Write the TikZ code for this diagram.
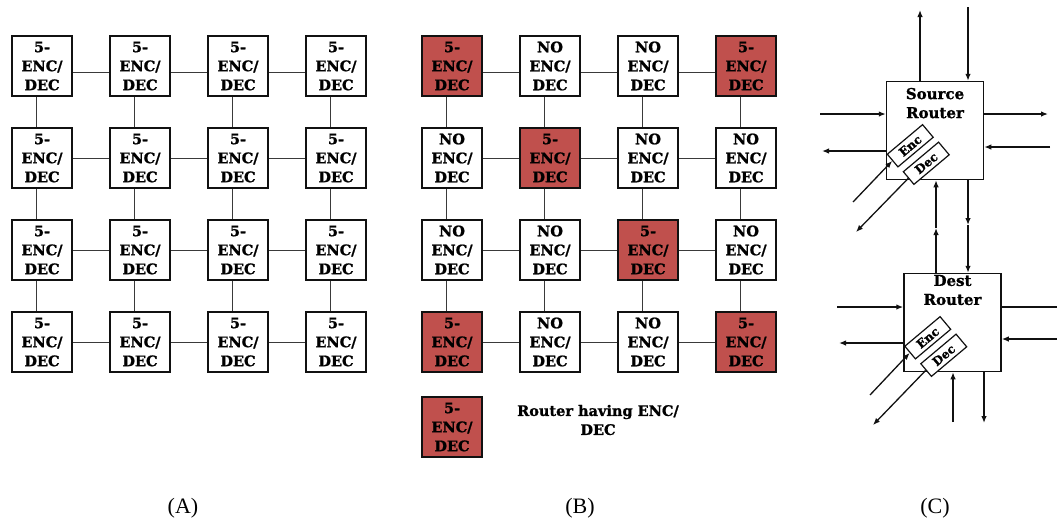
\documentclass[tikz,border=0pt]{standalone}
\usepackage{fontspec}
\setmainfont{DejaVu Serif}[BoldFeatures={FakeBold=1.2}]
\newfontfamily\capfont{Liberation Serif}
\usepackage{tikz}
\usetikzlibrary{arrows.meta,positioning,calc}
\definecolor{encred}{HTML}{C0504D}
\definecolor{ink}{HTML}{111111}
\definecolor{ink2}{HTML}{3A3A3A}

\begin{document}
\begin{tikzpicture}[x=1pt, y=-1pt,
  router/.style={draw=ink, line width=1.8pt, fill=white, minimum width=60pt, minimum height=60pt, inner sep=0pt, align=center, font=\bfseries\fontsize{14.5}{19}\selectfont},
  link/.style={ink2, line width=0.9pt},
  rbox/.style={draw=ink, line width=1.5pt, fill=white, minimum width=97pt, minimum height=98pt, inner sep=0pt},
  rtext/.style={align=center, inner sep=0pt, font=\bfseries\fontsize{15}{19}\selectfont},
  encbox/.style={draw=ink, line width=1.2pt, fill=white, minimum width=46pt, minimum height=16.5pt, inner sep=0pt, rotate=40, font=\bfseries\fontsize{12}{12}\selectfont},
  arr/.style={-{Latex[length=7pt,width=5.5pt]}, ink, line width=1.3pt},
  panellabel/.style={font=\capfont\fontsize{22}{26}\selectfont}]
  \useasboundingbox (0,0) rectangle (1057,523);

  % (A) every router has an encoder/decoder
  \foreach \r in {1,...,4}
    \foreach \c in {1,...,4}
      \node[router] (a\r\c) at ({-56+98*\c}, {-26+92*\r}) {5-\\ENC/\\DEC};

  % (B) only some routers have one
  \foreach \r/\c/\t/\f in {1/1/5-/encred, 1/2/NO/white, 1/3/NO/white, 1/4/5-/encred,
      2/1/NO/white, 2/2/5-/encred, 2/3/NO/white, 2/4/NO/white,
      3/1/NO/white, 3/2/NO/white, 3/3/5-/encred, 3/4/NO/white,
      4/1/5-/encred, 4/2/NO/white, 4/3/NO/white, 4/4/5-/encred}
    \node[router, fill=\f] (b\r\c) at ({354+98*\c}, {-26+92*\r}) {\t\\ENC/\\DEC};

  % mesh links
  \foreach \p in {a,b} {
    \foreach \r in {1,...,4} {
      \pgfmathsetmacro\dy{ifthenelse(\r==1,-6,0)}
      \foreach \c/\n in {1/2,2/3,3/4}
        \draw[link] ([yshift=\dy pt]\p\r\c.east) -- ([yshift=\dy pt]\p\r\n.west);
    }
    \foreach \c in {1,...,4}
      \foreach \r/\n in {1/2,2/3,3/4}
        \draw[link] ([xshift=-6pt]\p\r\c.south) -- ([xshift=-6pt]\p\n\c.north);
  }

  % legend
  \node[router, fill=encred] (key) at (452,427) {5-\\ENC/\\DEC};
  \node[rtext, font=\bfseries\fontsize{14.5}{19}\selectfont] (keytxt) at (598,420) {Router having ENC/\\DEC};

  % (C) source and destination routers
  \node[rbox] (src) at (935,130.5) {};
  \node[rtext, anchor=north] (srctxt) at ([yshift=-7pt]src.north) {Source\\Router};
  \node[rbox] (dst) at (952.5,322.5) {};
  \node[rtext, anchor=north] (dsttxt) at ([yshift=-2pt]dst.north) {Dest\\Router};
  \node[encbox] (senc) at ([shift={(24.5,-34.5)}]src.south west) {Enc};
  \node[encbox] (sdec) at ([shift={(40.5,-17)}]src.south west) {Dec};
  \node[encbox] (denc) at ([shift={(24.5,-34.5)}]dst.south west) {Enc};
  \node[encbox] (ddec) at ([shift={(40.5,-17)}]dst.south west) {Dec};

  \coordinate (s-up) at (920,10);   \coordinate (s-dn) at (968,7);
  \coordinate (s-lin) at (820,114); \coordinate (s-lout) at (822,151);
  \coordinate (s-rout) at (1048,114); \coordinate (s-rin) at (1050,147);
  \coordinate (s-ein) at (853,202); \coordinate (s-dout) at (856,232);
  \coordinate (m-up) at (936,228);  \coordinate (m-dn) at (968,225);
  \coordinate (d-lin) at (837,307); \coordinate (d-lout) at (839,343);
  \coordinate (d-rout) at (1064,307); \coordinate (d-rin) at (1064,339);
  \coordinate (d-bin) at (953,422); \coordinate (d-bout) at (984,423);
  \coordinate (d-ein) at (870,395); \coordinate (d-dout) at (873,425);

  \draw[arr] (s-up |- src.north) -- (s-up); \draw[arr] (s-dn) -- (s-dn |- src.north);
  \draw[arr] (s-lin) -- (s-lin -| src.west); \draw[arr] (s-lout -| src.west) -- (s-lout);
  \draw[arr] (s-rout -| src.east) -- (s-rout); \draw[arr] (s-rin) -- (s-rin -| src.east);
  \draw[arr] (s-ein) -- (senc.west); \draw[arr] (sdec.west) -- (s-dout);
  \draw[arr] (m-up |- dst.north) -- (m-up); \draw[arr] (m-up) -- (m-up |- src.south);
  \draw[arr] (m-dn |- src.south) -- (m-dn); \draw[arr] (m-dn) -- (m-dn |- dst.north);
  \draw[arr] (d-lin) -- (d-lin -| dst.west); \draw[arr] (d-lout -| dst.west) -- (d-lout);
  \draw[arr] (d-rout -| dst.east) -- (d-rout); \draw[arr] (d-rin) -- (d-rin -| dst.east);
  \draw[arr] (d-bin) -- (d-bin |- dst.south); \draw[arr] (d-bout |- dst.south) -- (d-bout);
  \draw[arr] (d-ein) -- (denc.west); \draw[arr] (ddec.west) -- (d-dout);

  % captions
  \node[panellabel] (capA) at (183,508) {(A)};
  \node[panellabel] (capB) at (580,508) {(B)};
  \node[panellabel] (capC) at (935,508) {(C)};
\end{tikzpicture}
\end{document}
